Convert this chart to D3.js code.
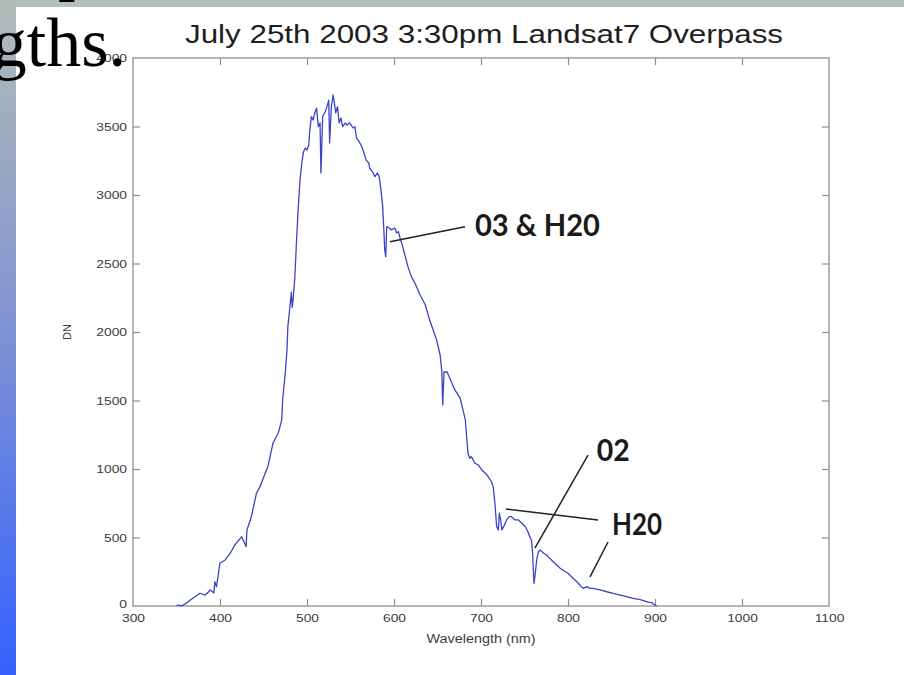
<!DOCTYPE html>
<html>
<head>
<meta charset="utf-8">
<script src="https://cdn.jsdelivr.net/npm/d3@7"></script>
<style>
  body { margin: 0; background: #fff; }
  svg { display: block; }
</style>
</head>
<body>
<svg id="chart" width="904" height="675"></svg>
<script>
// Spectrometer trace: wavelength (nm) and digital number
const wavelength = [
  350, 356, 360, 366, 377, 383, 389, 393, 394, 396, 400, 406, 412, 417, 425, 430, 431, 436, 442, 446,
  452, 455, 461, 467, 471, 472, 475, 477, 478, 480, 482, 483, 484, 486, 488, 490, 492, 494, 496, 498,
  500, 502, 503, 505, 507, 509, 511, 513, 515, 516, 518, 521, 523, 525, 526, 528, 530, 531, 533, 535,
  537, 539, 541, 544, 546, 549, 553, 555, 557, 560, 563, 565, 568, 571, 572, 576, 578, 581, 583, 585,
  587, 588.5, 589.3, 590.5, 591.6, 594.6, 597, 601, 603, 605, 607, 610, 613, 616, 620, 624, 630, 636, 641, 645,
  649, 653, 655, 656, 657.5, 661, 664, 670, 676, 682, 685, 687, 689, 693, 697, 701, 707, 712, 714, 716,
  718, 720, 721, 722.6, 724, 726, 729.5, 732.5, 735, 739, 743, 747, 751, 754, 756, 758, 759.4, 760.1, 761, 762.4,
  764, 766, 768, 772, 775.5, 779, 783, 787, 791, 797, 800, 804, 808, 812, 815, 818, 821.5, 825, 829, 837,
  844.5, 852, 860, 867.5, 875, 883, 892, 897, 900, 902
];
const dn = [
  7, 2, 15, 44, 93, 80, 117, 95, 177, 141, 314, 336, 387, 445, 506, 433, 555, 652, 825, 871,
  971, 1017, 1190, 1263, 1358, 1504, 1701, 1869, 2039, 2161, 2290, 2180, 2234, 2394, 2672, 2915, 3109, 3234, 3316, 3343,
  3328, 3365, 3453, 3572, 3547, 3599, 3635, 3499, 3526, 3161, 3572, 3608, 3645, 3693, 3380, 3645, 3730, 3693, 3599, 3645,
  3526, 3562, 3499, 3526, 3511, 3526, 3489, 3499, 3416, 3389, 3353, 3316, 3255, 3234, 3197, 3161, 3134, 3161, 3134, 3036,
  2915, 2723, 2599, 2550, 2769, 2759, 2745, 2759, 2723, 2732, 2686, 2623, 2550, 2477, 2404, 2358, 2270, 2197, 2088, 2015,
  1942, 1832, 1708, 1467, 1708, 1708, 1664, 1577, 1518, 1358, 1115, 1078, 1090, 1042, 1029, 993, 956, 907, 871, 750,
  579, 555, 677, 628, 555, 579, 628, 652, 652, 628, 628, 604, 579, 542, 506, 482, 385, 263, 166, 239,
  336, 396, 409, 385, 372, 348, 323, 299, 275, 250, 239, 214, 190, 166, 141, 129, 141, 129, 129, 117,
  104, 93, 80, 68, 56, 47, 29, 22, 7, 0
];
const xTicks = [300, 400, 500, 600, 700, 800, 900, 1000, 1100];
const yTicks = [0, 500, 1000, 1500, 2000, 2500, 3000, 3500, 4000];

// Absorption feature labels and where their leader lines point (nm, DN)
const featureLabels = ["03 & H20", "02", "H20"];
const featureTextAt = [[693, 2701], [833, 1058], [850.6, 518]];
const featureLeaders = [
  [[[681.6, 2769], [595.4, 2659]]],
  [[[823, 1102], [762, 423]]],
  [[[834.5, 628], [728.7, 708]], [[846, 467], [825.3, 212]]]
];

const svg = d3.select("#chart");
const W = 904, H = 675;

// Slide backdrop: grey band on top, gradient strip on the left
const defs = svg.append("defs");
const grad = defs.append("linearGradient").attr("id", "sideGrad")
  .attr("x1", 0).attr("y1", 0).attr("x2", 0).attr("y2", 1);
grad.append("stop").attr("offset", "0%").attr("stop-color", "#b2bcb6");
grad.append("stop").attr("offset", "45%").attr("stop-color", "#8596d0");
grad.append("stop").attr("offset", "100%").attr("stop-color", "#3461ff");

svg.append("rect").attr("width", W).attr("height", H).attr("fill", "#fff");
svg.append("rect").attr("x", 0).attr("y", 0).attr("width", W).attr("height", 7).attr("fill", "#b5beb8");
svg.append("rect").attr("x", 0).attr("y", 0).attr("width", 16).attr("height", H).attr("fill", "url(#sideGrad)");

// Plot area
const x = d3.scaleLinear().domain([300, 1100]).range([133, 829]);
const y = d3.scaleLinear().domain([0, 4000]).range([606, 58]);

const frameColor = "#8e8e8e";
const labelColor = "#3c3c3c";
const stretch = 1.2;

function stretchTexts(sel) {
  sel.each(function () {
    const len = this.getComputedTextLength();
    d3.select(this).attr("textLength", len * stretch).attr("lengthAdjust", "spacingAndGlyphs");
  });
}

const g = svg.append("g");

// Frame
g.append("rect")
  .attr("x", x(300)).attr("y", y(4000))
  .attr("width", x(1100) - x(300)).attr("height", y(0) - y(4000))
  .attr("fill", "none").attr("stroke", frameColor).attr("stroke-width", 1.3);

// Axes with inward ticks
const axisStyle = (sel) => {
  sel.select(".domain").remove();
  sel.selectAll(".tick line").attr("stroke", frameColor).attr("stroke-width", 1.2);
  sel.selectAll(".tick text")
    .attr("fill", labelColor)
    .style("font-family", "'Liberation Sans', Arial, sans-serif")
    .style("font-size", "11.5px");
};

const xAxis = g.append("g").attr("transform", `translate(0,${y(0)})`)
  .call(d3.axisBottom(x).tickValues(xTicks).tickFormat(d3.format("d"))
    .tickSizeInner(-7).tickSizeOuter(0).tickPadding(8))
  .call(axisStyle);
xAxis.selectAll(".tick").filter(d => d === 300 || d === 1100).select("line").remove();

const yAxis = g.append("g").attr("transform", `translate(${x(300)},0)`)
  .call(d3.axisLeft(y).tickValues(yTicks).tickFormat(d3.format("d"))
    .tickSizeInner(-7).tickSizeOuter(0).tickPadding(6))
  .call(axisStyle);
yAxis.selectAll(".tick").filter(d => d === 0 || d === 4000).select("line").remove();
yAxis.selectAll(".tick").filter(d => d === 0).select("text").attr("dy", "0.1em");

// Mirror ticks on top and right edges
g.append("g").attr("transform", `translate(0,${y(4000)})`)
  .call(d3.axisTop(x).tickValues(xTicks.slice(1, -1)).tickFormat("")
    .tickSizeInner(-7).tickSizeOuter(0))
  .call(axisStyle);
g.append("g").attr("transform", `translate(${x(1100)},0)`)
  .call(d3.axisRight(y).tickValues(yTicks.slice(1, -1)).tickFormat("")
    .tickSizeInner(-7).tickSizeOuter(0))
  .call(axisStyle);

stretchTexts(xAxis.selectAll(".tick text"));
stretchTexts(yAxis.selectAll(".tick text"));

// Axis titles and chart title
g.append("text")
  .attr("x", 481).attr("y", 643)
  .attr("text-anchor", "middle")
  .attr("fill", labelColor)
  .style("font-family", "'Liberation Sans', Arial, sans-serif")
  .style("font-size", "12px")
  .text("Wavelength (nm)")
  .call(stretchTexts);

g.append("text")
  .attr("transform", `translate(71,${y(2000)}) rotate(-90)`)
  .attr("text-anchor", "middle")
  .attr("fill", labelColor)
  .style("font-family", "'Liberation Sans', Arial, sans-serif")
  .style("font-size", "11px")
  .text("DN");

g.append("text")
  .attr("x", 484).attr("y", 43)
  .attr("text-anchor", "middle")
  .attr("fill", "#1e1e1e")
  .style("font-family", "'Liberation Sans', Arial, sans-serif")
  .style("font-size", "25px")
  .attr("textLength", 598).attr("lengthAdjust", "spacingAndGlyphs")
  .text("July 25th 2003 3:30pm Landsat7 Overpass");

// Spectrum
const points = wavelength.map((w, i) => [w, dn[i]]);
const line = d3.line().x(d => x(d[0])).y(d => y(d[1]));
g.append("path")
  .datum(points)
  .attr("d", line)
  .attr("fill", "none")
  .attr("stroke", "#3b44c6")
  .attr("stroke-width", 1.3)
  .attr("stroke-linejoin", "round");

// Feature callouts
const callout = g.append("g");
featureLeaders.forEach(segs => {
  segs.forEach(seg => {
    callout.append("line")
      .attr("x1", x(seg[0][0])).attr("y1", y(seg[0][1]))
      .attr("x2", x(seg[1][0])).attr("y2", y(seg[1][1]))
      .attr("stroke", "#222").attr("stroke-width", 1.5);
  });
});
const labelWidths = [125, 33, 50];
featureLabels.forEach((t, i) => {
  callout.append("text")
    .attr("x", x(featureTextAt[i][0])).attr("y", y(featureTextAt[i][1]))
    .attr("fill", "#1a1a1a")
    .style("font-family", "Lato, 'Open Sans', sans-serif")
    .style("font-weight", "bold")
    .style("font-size", "30px")
    .attr("textLength", labelWidths[i]).attr("lengthAdjust", "spacingAndGlyphs")
    .text(t);
});

// Slide body text running over the figure
svg.append("text")
  .attr("x", 58).attr("y", -13)
  .attr("fill", "#000")
  .style("font-family", "'Liberation Serif', 'Times New Roman', serif")
  .style("font-size", "70px")
  .text("p");
svg.append("text")
  .attr("x", 126).attr("y", 66)
  .attr("text-anchor", "end")
  .attr("fill", "#000")
  .style("font-family", "'Liberation Serif', 'Times New Roman', serif")
  .style("font-size", "70px")
  .text("gths.");
</script>
</body>
</html>
